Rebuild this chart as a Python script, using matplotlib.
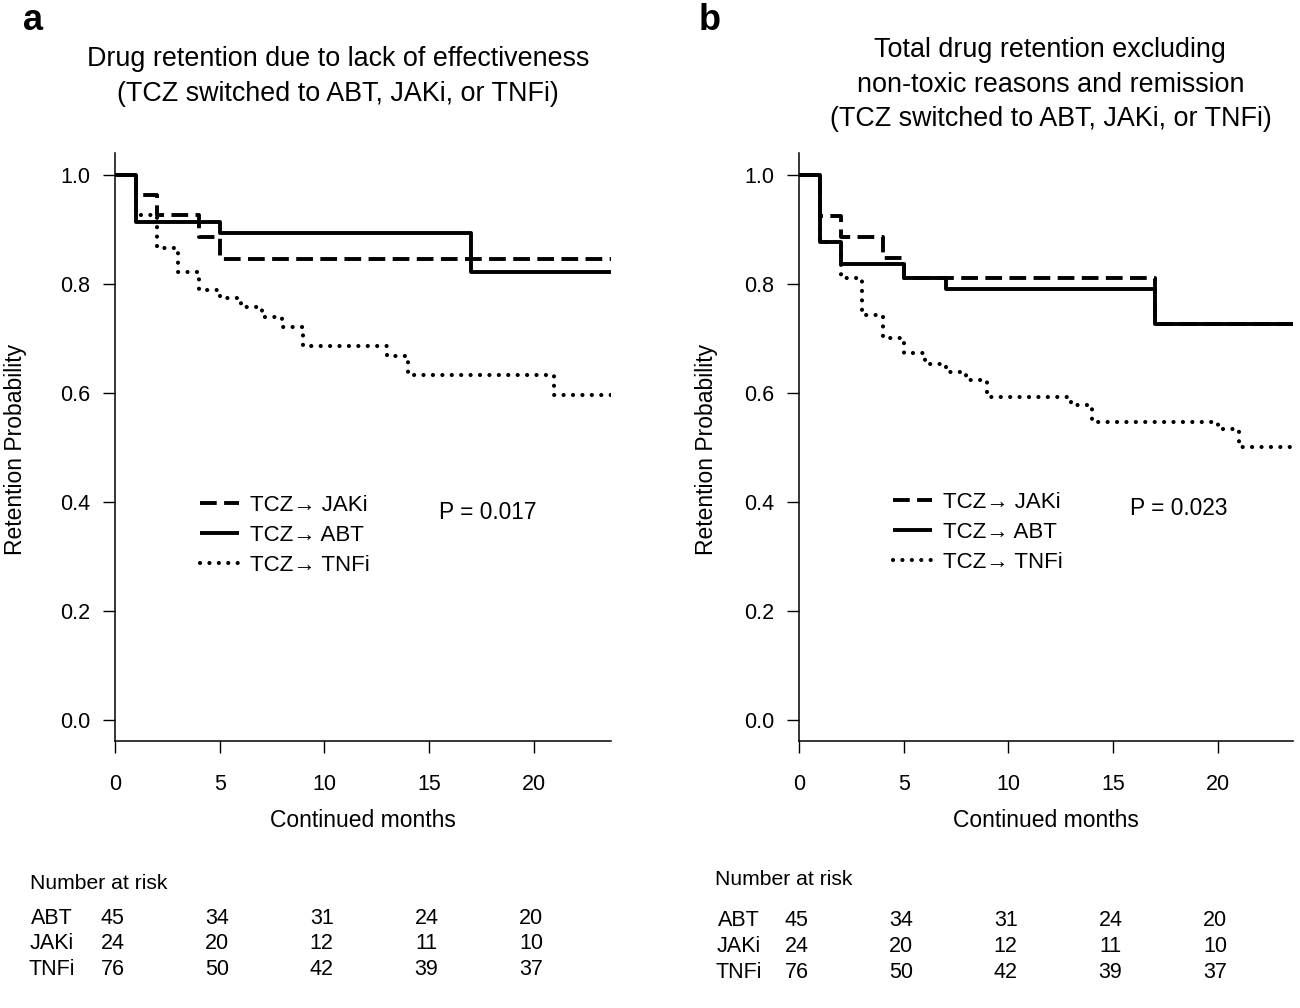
import matplotlib
matplotlib.use("Agg")
import matplotlib.pyplot as plt
import matplotlib.transforms as mtransforms

plt.rcParams["font.family"] = ["Liberation Sans", "DejaVu Sans"]

# panel a: lack of effectiveness
abt_a_t = [0, 1, 5, 17]
abt_a_s = [1.0, 0.914, 0.894, 0.822]
jak_a_t = [0, 1, 2, 4, 5]
jak_a_s = [1.0, 0.963, 0.927, 0.886, 0.846]
tnf_a_t = [0, 1, 2, 3, 4, 5, 6, 7, 8, 9, 13, 14, 21]
tnf_a_s = [1.0, 0.927, 0.866, 0.822, 0.789, 0.774, 0.758, 0.739, 0.721, 0.686, 0.668, 0.633, 0.596]

# panel b: total retention excluding non-toxic reasons and remission
abt_b_t = [0, 1, 2, 5, 7, 17]
abt_b_s = [1.0, 0.877, 0.837, 0.811, 0.791, 0.727]
jak_b_t = [0, 1, 2, 4, 5, 17]
jak_b_s = [1.0, 0.925, 0.886, 0.848, 0.811, 0.727]
tnf_b_t = [0, 1, 2, 3, 4, 5, 6, 7, 8, 9, 13, 14, 20, 21]
tnf_b_s = [1.0, 0.877, 0.81, 0.743, 0.701, 0.673, 0.653, 0.638, 0.624, 0.593, 0.578, 0.547, 0.534, 0.501]

risk_times = [0, 5, 10, 15, 20]
risk_groups = ["ABT", "JAKi", "TNFi"]
abt_risk = [45, 34, 31, 24, 20]
jaki_risk = [24, 20, 12, 11, 10]
tnfi_risk = [76, 50, 42, 39, 37]

title_a = "Drug retention due to lack of effectiveness\n(TCZ switched to ABT, JAKi, or TNFi)"
title_b = ("Total drug retention excluding\nnon-toxic reasons and remission\n"
           "(TCZ switched to ABT, JAKi, or TNFi)")
p_a = "P = 0.017"
p_b = "P = 0.023"

fig = plt.figure(figsize=(13, 10.08), dpi=100)
ax_a = fig.add_axes([0.0885, 0.2649, 0.3815, 0.5833])
ax_b = fig.add_axes([0.6146, 0.2649, 0.3800, 0.5833])

dash_style = (0, (4.3, 1.9))
dot_style = (0, (0.01, 2.25))


def draw_panel(ax, curves, xmax, ptext, pxy, leg_xy):
    lines = []
    for t, s, ls, lw, lab in curves:
        xs = list(t) + [xmax]
        ys = list(s) + [s[-1]]
        ln, = ax.step(xs, ys, where="post", color="black", linestyle=ls,
                      linewidth=lw, label=lab, solid_capstyle="butt",
                      dash_capstyle="butt" if ls == dash_style else "round")
        lines.append(ln)
    ax.set_xlim(0, xmax)
    ax.set_ylim(-0.039, 1.04)
    ax.set_xticks(risk_times)
    ax.set_yticks([0.0, 0.2, 0.4, 0.6, 0.8, 1.0])
    ax.set_yticklabels(["0.0", "0.2", "0.4", "0.6", "0.8", "1.0"])
    for sp in ["top", "right"]:
        ax.spines[sp].set_visible(False)
    for sp in ["left", "bottom"]:
        ax.spines[sp].set_linewidth(1.1)
    ax.tick_params(axis="y", length=8.6, width=1.0, pad=9, labelsize=15.5)
    ax.tick_params(axis="x", length=8.6, width=1.0, pad=15.5, labelsize=15.5)
    ax.set_xlabel("Continued months", fontsize=16.5)
    ax.xaxis.set_label_coords(0.5, -0.116)
    ax.set_ylabel("Retention Probability", fontsize=16.5)
    ax.text(pxy[0], pxy[1], ptext, fontsize=16.4, va="center", ha="left")
    ax.legend(handles=lines, loc="center left", bbox_to_anchor=leg_xy,
              frameon=False, fontsize=16, handlelength=1.75, handletextpad=0.5,
              labelspacing=0.4, borderpad=0, borderaxespad=0)


curves_a = [
    (jak_a_t, jak_a_s, dash_style, 2.8, "TCZ\u2192 JAKi"),
    (abt_a_t, abt_a_s, "-", 2.8, "TCZ\u2192 ABT"),
    (tnf_a_t, tnf_a_s, dot_style, 3.0, "TCZ\u2192 TNFi"),
]
curves_b = [
    (jak_b_t, jak_b_s, dash_style, 2.8, "TCZ\u2192 JAKi"),
    (abt_b_t, abt_b_s, "-", 2.8, "TCZ\u2192 ABT"),
    (tnf_b_t, tnf_b_s, dot_style, 3.0, "TCZ\u2192 TNFi"),
]

draw_panel(ax_a, curves_a, 23.7, p_a, (15.5, 0.38), (0.171, 0.350))
draw_panel(ax_b, curves_b, 23.6, p_b, (15.8, 0.387), (0.19, 0.355))
ax_a.yaxis.set_label_coords(-0.177, 0.495)
ax_b.yaxis.set_label_coords(-0.163, 0.495)

fig.text(0.26, 0.924, title_a, ha="center", va="center", fontsize=19.4, linespacing=1.42)
fig.text(0.808, 0.916, title_b, ha="center", va="center", fontsize=19.4, linespacing=1.42)
fig.text(0.0254, 0.980, "a", ha="center", va="center", fontsize=26, fontweight="bold")
fig.text(0.546, 0.980, "b", ha="center", va="center", fontsize=26, fontweight="bold")

# number at risk tables
risk_rows = [abt_risk, jaki_risk, tnfi_risk]


def risk_table(ax, head_xy, label_x, row_ys):
    fig.text(head_xy[0], head_xy[1], "Number at risk", ha="left", va="center", fontsize=15.2)
    tr = mtransforms.blended_transform_factory(ax.transData, fig.transFigure)
    for grp, vals, y in zip(risk_groups, risk_rows, row_ys):
        fig.text(label_x, y, grp, ha="center", va="center", fontsize=15.5)
        for t, v in zip(risk_times, vals):
            ax.text(t - 0.12, y, str(v), transform=tr, ha="center", va="center",
                    fontsize=15.5, clip_on=False)


risk_table(ax_a, (0.023, 0.124), 0.040, [0.0883, 0.0635, 0.0377])
risk_table(ax_b, (0.550, 0.127), 0.568, [0.0873, 0.0615, 0.0357])

fig.savefig("out.png", dpi=100)
